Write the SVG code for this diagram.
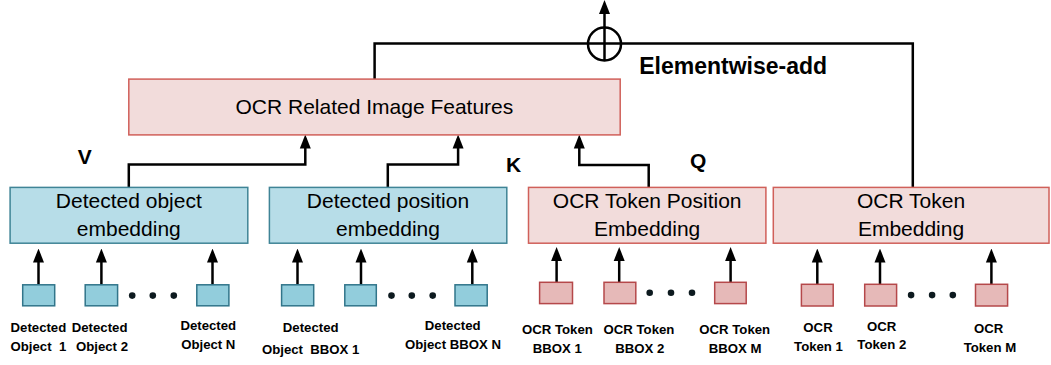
<svg xmlns="http://www.w3.org/2000/svg" width="1051" height="365" viewBox="0 0 1051 365">
<style>
text{font-family:"Liberation Sans",Arial,sans-serif;fill:#000}
.big{font-size:21px;text-anchor:middle}
.lbl{font-size:13.2px;font-weight:bold;text-anchor:middle}
.qkv{font-size:21px;font-weight:bold}
.conn{fill:none;stroke:#000;stroke-width:2.5}
.blue{fill:#b7dde8;stroke:#3f8496;stroke-width:1.5}
.pink{fill:#f2dcdb;stroke:#d0605a;stroke-width:1.5}
.sblue{fill:#92cddc;stroke:#31758a;stroke-width:1.5}
.spink{fill:#e6b9b8;stroke:#b5484a;stroke-width:1.5}
.dot{fill:#0d1a1f}
</style>
<defs>
<marker id="ah" markerUnits="userSpaceOnUse" markerWidth="14" markerHeight="12" viewBox="0 0 14 12" refX="10" refY="6" orient="auto">
<path d="M0,0.5 L14,6 L0,11.5 z" fill="#000"/>
</marker>
</defs>
<rect width="1051" height="365" fill="#fff"/>

<g id="connectors">
<path class="conn" d="M374.6,79 V43.5 H912.8 V187.4"/>
<circle cx="604.5" cy="44" r="16.5" fill="none" stroke="#000" stroke-width="2.5"/>
<path class="conn" d="M604.5,60.5 V4" marker-end="url(#ah)"/>
<path class="conn" d="M128.8,187.4 V164.6 H305.3 V138.5" marker-end="url(#ah)"/>
<path class="conn" d="M387.8,187.4 V164.6 H458.1 V138.5" marker-end="url(#ah)"/>
<path class="conn" d="M648.7,187.4 V164.9 H579.3 V138.5" marker-end="url(#ah)"/>
<path class="conn" d="M38.5,284.8 V252.5" marker-end="url(#ah)"/>
<path class="conn" d="M101.4,284.8 V252.5" marker-end="url(#ah)"/>
<path class="conn" d="M212.5,284.8 V252.5" marker-end="url(#ah)"/>
<path class="conn" d="M297.5,284.8 V252.5" marker-end="url(#ah)"/>
<path class="conn" d="M361,284.8 V252.5" marker-end="url(#ah)"/>
<path class="conn" d="M472.3,284.8 V252.5" marker-end="url(#ah)"/>
<path class="conn" d="M556.6,282.3 V251" marker-end="url(#ah)"/>
<path class="conn" d="M619.2,282.3 V251" marker-end="url(#ah)"/>
<path class="conn" d="M730.6,282.3 V251" marker-end="url(#ah)"/>
<path class="conn" d="M817.3,284.3 V252.5" marker-end="url(#ah)"/>
<path class="conn" d="M880,284.3 V252.5" marker-end="url(#ah)"/>
<path class="conn" d="M991.4,284.3 V252.5" marker-end="url(#ah)"/>
</g>

<text class="qkv" x="639.2" y="73.8" style="font-size:23px">Elementwise-add</text>
<text class="qkv" x="77.8" y="164">V</text>
<text class="qkv" x="506" y="172.4">K</text>
<text class="qkv" x="690" y="168.3">Q</text>

<g id="ocr-image-features">
<rect class="pink" x="128.8" y="79.1" width="491.4" height="55.8"/>
<text class="big" x="374.4" y="114.3">OCR Related Image Features</text>
</g>

<g id="detected-object-embedding">
<rect class="blue" x="10.1" y="187.4" width="237.7" height="55.8"/>
<text class="big" x="128.8" y="207.7">Detected object</text>
<text class="big" x="128.8" y="236">embedding</text>
</g>
<g id="detected-position-embedding">
<rect class="blue" x="269.4" y="187.4" width="237.4" height="55.8"/>
<text class="big" x="388" y="207.7">Detected position</text>
<text class="big" x="388" y="236">embedding</text>
</g>
<g id="ocr-token-position-embedding">
<rect class="pink" x="528.5" y="187.4" width="237.4" height="55.8"/>
<text class="big" x="647.2" y="207.5">OCR Token Position</text>
<text class="big" x="647.2" y="236">Embedding</text>
</g>
<g id="ocr-token-embedding">
<rect class="pink" x="773.3" y="187.4" width="275.7" height="55.8"/>
<text class="big" x="911" y="207.5">OCR Token</text>
<text class="big" x="911" y="236">Embedding</text>
</g>

<g id="detected-object-1">
<rect class="sblue" x="22.7" y="284.8" width="32" height="21"/>
<text class="lbl" x="38.4" y="332">Detected</text>
<text class="lbl" x="38.4" y="350.7" xml:space="preserve">Object  1</text>
</g>
<g id="detected-object-2">
<rect class="sblue" x="85.2" y="284.8" width="32.4" height="21"/>
<text class="lbl" x="99.6" y="332">Detected</text>
<text class="lbl" x="102" y="350.7">Object 2</text>
</g>
<g id="dots-1">
<circle class="dot" cx="132.2" cy="295.6" r="3.3"/>
<circle class="dot" cx="152.8" cy="295.6" r="3.3"/>
<circle class="dot" cx="173.8" cy="295.6" r="3.3"/>
</g>
<g id="detected-object-n">
<rect class="sblue" x="196.8" y="284.8" width="32.1" height="21"/>
<text class="lbl" x="208.3" y="330.4">Detected</text>
<text class="lbl" x="208.3" y="349">Object N</text>
</g>

<g id="detected-bbox-1">
<rect class="sblue" x="281.6" y="284.8" width="32.1" height="21"/>
<text class="lbl" x="310.7" y="332">Detected</text>
<text class="lbl" x="310.7" y="354" xml:space="preserve">Object  BBOX 1</text>
</g>
<g id="detected-bbox-2">
<rect class="sblue" x="344.8" y="284.8" width="31.5" height="21"/>
</g>
<g id="dots-2">
<circle class="dot" cx="391.5" cy="295.6" r="3.3"/>
<circle class="dot" cx="411.8" cy="295.6" r="3.3"/>
<circle class="dot" cx="432.7" cy="295.6" r="3.3"/>
</g>
<g id="detected-bbox-n">
<rect class="sblue" x="455" y="284.8" width="32.2" height="21"/>
<text class="lbl" x="452.7" y="330.4">Detected</text>
<text class="lbl" x="453" y="349">Object BBOX N</text>
</g>

<g id="ocr-bbox-1">
<rect class="spink" x="539.6" y="282.3" width="32.9" height="21.3"/>
<text class="lbl" x="557.4" y="334">OCR Token</text>
<text class="lbl" x="557.2" y="352.7">BBOX 1</text>
</g>
<g id="ocr-bbox-2">
<rect class="spink" x="604" y="282.3" width="31.8" height="21.3"/>
<text class="lbl" x="639" y="334">OCR Token</text>
<text class="lbl" x="639.7" y="352.7">BBOX 2</text>
</g>
<g id="dots-3">
<circle class="dot" cx="649.7" cy="292.8" r="3.3"/>
<circle class="dot" cx="671" cy="292.8" r="3.3"/>
<circle class="dot" cx="692" cy="292.8" r="3.3"/>
</g>
<g id="ocr-bbox-m">
<rect class="spink" x="714.7" y="282.3" width="31.5" height="21.3"/>
<text class="lbl" x="734.7" y="334">OCR Token</text>
<text class="lbl" x="735" y="352.7">BBOX M</text>
</g>

<g id="ocr-token-1">
<rect class="spink" x="801.4" y="284.3" width="31.8" height="21.7"/>
<text class="lbl" x="818" y="332.4">OCR</text>
<text class="lbl" x="818.5" y="351">Token 1</text>
</g>
<g id="ocr-token-2">
<rect class="spink" x="864.7" y="284.3" width="31.9" height="21.7"/>
<text class="lbl" x="881.7" y="330.7">OCR</text>
<text class="lbl" x="881.8" y="349.3">Token 2</text>
</g>
<g id="dots-4">
<circle class="dot" cx="911.1" cy="295.1" r="3.3"/>
<circle class="dot" cx="932.1" cy="295.1" r="3.3"/>
<circle class="dot" cx="952.8" cy="295.1" r="3.3"/>
</g>
<g id="ocr-token-m">
<rect class="spink" x="975.5" y="284.3" width="32.1" height="21.7"/>
<text class="lbl" x="988.7" y="333">OCR</text>
<text class="lbl" x="989.9" y="352">Token M</text>
</g>
</svg>
